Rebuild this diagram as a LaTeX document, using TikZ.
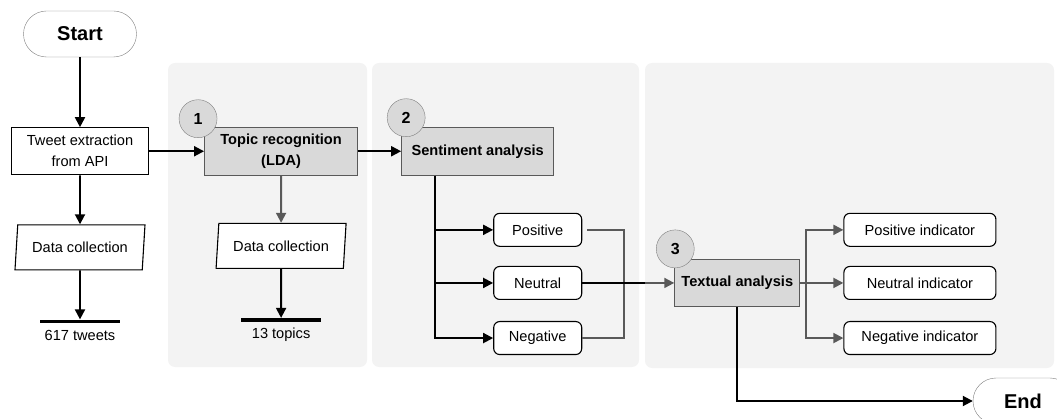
\documentclass[tikz,border=0pt]{standalone}
\usepackage{fontspec}
\setmainfont{Liberation Sans}
\usetikzlibrary{arrows.meta,shapes.geometric,positioning}

\definecolor{panelgray}{HTML}{F3F3F3}
\definecolor{boxgray}{HTML}{D9D9D9}
\definecolor{edgegray}{HTML}{595959}
\definecolor{ringgray}{HTML}{7F7F7F}

\begin{document}
\begin{tikzpicture}[x=1pt, y=-1pt, >={Triangle[length=10pt,width=10pt]},
  every node/.style={font=\fontsize{14.6}{21}\selectfont},
  panel/.style={fill=panelgray, rounded corners=7pt},
  terminal/.style={draw=ringgray, fill=white, rounded corners=23pt, minimum height=46pt,
    font=\fontsize{20}{24}\selectfont\bfseries},
  process/.style={draw=black, line width=1.1pt, fill=white, minimum width=137pt,
    minimum height=47pt, align=center, inner sep=2pt},
  task/.style={draw=edgegray, line width=1.1pt, fill=boxgray, minimum height=48pt,
    align=center, inner sep=2pt, font=\fontsize{14.6}{21}\selectfont\bfseries},
  data/.style={trapezium, trapezium left angle=81, trapezium right angle=99,
    trapezium stretches body, draw=black, line width=1.1pt, fill=white,
    minimum width=130pt, minimum height=45pt},
  endbar/.style={fill=black, minimum width=80pt, minimum height=3.5pt, inner sep=0pt},
  result/.style={draw=black, line width=1.1pt, fill=white, rounded corners=6pt,
    minimum height=33pt},
  badge/.style={circle, draw=ringgray, fill=boxgray, minimum size=38pt, inner sep=0pt,
    font=\fontsize{16}{18}\selectfont\bfseries},
  flow/.style={->, line width=1.9pt},
  softflow/.style={->, line width=1.9pt, draw=edgegray, color=edgegray},
  merge/.style={line width=1.9pt, draw=edgegray}]

  \useasboundingbox (0,0) rectangle (1057,419);

  % grey panels behind the three stages
  \fill[panel] (168,63) rectangle (367,367);
  \fill[panel] (372,63) rectangle (639,367);
  \fill[panel] (645,63) rectangle (1054,368);

  \node[terminal, minimum width=113pt] (start) at (80,34) {Start};
  \node[process, below=70pt of start]  (tweet) {Tweet extraction\\from API};
  \node[data, below=49pt of tweet]     (data1) {Data collection};
  \node[endbar, below=49pt of data1,
    label={[label distance=3pt]below:617 tweets}] (bar1) {};

  \node[task, right=55pt of tweet, minimum width=153pt] (topic)
  {Topic recognition\\(LDA)};
  \node[task, right=43pt of topic, minimum width=152pt] (senti)
  {Sentiment analysis};
  \node[data, below=47pt of topic]     (data2) {Data collection};
  \node[endbar, below=49pt of data2,
    label={[label distance=3pt]below:13 topics}] (bar2) {};

  \node[result, minimum width=88pt, below=37pt of senti, xshift=60pt] (pos) {Positive};
  \node[result, minimum width=88pt, below=19pt of pos] (neu) {Neutral};
  \node[result, minimum width=88pt, below=21pt of neu] (neg) {Negative};

  \node[task, minimum width=125pt, minimum height=47pt, right=92pt of neu] (textual)
  {Textual analysis};
  \node[result, minimum width=152pt, right=43pt of textual] (ineu) {Neutral indicator};
  \node[result, minimum width=152pt, above=19pt of ineu] (ipos) {Positive indicator};
  \node[result, minimum width=152pt, below=21pt of ineu] (ineg) {Negative indicator};

  \node[terminal, minimum width=100pt] (end) at (1023,401) {End};

  % step numbers
  \node[badge] (b1) at ([xshift=-6pt,yshift=8pt]topic.north west) {1};
  \node[badge] (b2) at ([xshift=5pt,yshift=9pt]senti.north west) {2};
  \node[badge] (b3) at ([xshift=1pt,yshift=10pt]textual.north west) {3};

  \draw[flow] (start) -- (tweet);
  \draw[flow] (tweet) -- (data1);
  \draw[flow] (data1) -- (bar1);
  \draw[flow] (tweet) -- (topic);
  \draw[softflow] (topic) -- (data2);
  \draw[flow] (data2) -- (bar2);
  \draw[flow] (topic) -- (senti);

  \coordinate (split) at ([xshift=34pt]senti.south west);
  \draw[flow] (split) |- (pos);
  \draw[flow] (split) |- (neu);
  \draw[flow] (split) |- (neg);

  \draw[merge] ([xshift=5pt]pos.east) -| ([xshift=42pt]neg.east) -- (neg.east);
  \draw[line width=1.9pt] (neu.east) -- ++(63,0) coordinate (join);
  \draw[softflow] (join) -- (textual);

  \coordinate (fork) at ([xshift=6pt]textual.east);
  \draw[softflow] (textual) -- (ineu);
  \draw[softflow] (fork) |- (ipos);
  \draw[softflow] (fork) |- (ineg);
  \draw[flow] (textual.south) |- (end);
\end{tikzpicture}
\end{document}
